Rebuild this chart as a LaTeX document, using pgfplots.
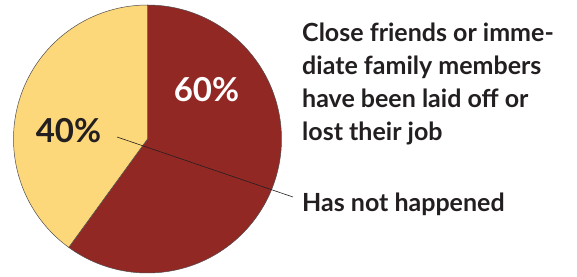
\documentclass[border=0pt]{standalone}
\usepackage{pgfplots}
\pgfplotsset{compat=1.18}
\usepackage{fontspec}
\setmainfont{Lato}
\definecolor{darkred}{RGB}{146,40,36}
\definecolor{paleyellow}{RGB}{253,216,122}
\definecolor{txt}{RGB}{35,31,32}
% data: shares in percent
\def\pctHappened{60}
\def\pctNot{40}
\def\cx{147.5}
\def\cy{137}
\def\rr{134}
\begin{document}
\begin{tikzpicture}
\pgfmathsetmacro{\angEnd}{90+3.6*\pctNot}
\pgfmathsetmacro{\angStart}{90-3.6*\pctHappened}
\begin{axis}[width=577pt,height=276pt,scale only axis,
  xmin=0,xmax=577,ymin=0,ymax=276,hide axis,clip=false]
\addplot[fill=darkred,draw=txt!80,line width=0.5pt,domain=\angStart:90,samples=120]
  ({\cx+\rr*cos(x)},{\cy+\rr*sin(x)}) -- (\cx,\cy) -- cycle;
\addplot[fill=paleyellow,draw=txt!80,line width=0.5pt,domain=90:\angEnd,samples=80]
  ({\cx+\rr*cos(x)},{\cy+\rr*sin(x)}) -- (\cx,\cy) -- cycle;
\addplot[txt,line width=0.6pt] coordinates {(117,139) (293,79)};
\node[anchor=base,text=white,font=\bfseries\fontsize{33}{33}\selectfont] at (206.5,174) {60\%};
\node[anchor=base,text=txt,font=\bfseries\fontsize{33}{33}\selectfont] at (68.5,134) {40\%};
\begin{scope}[every node/.style={anchor=base west,inner sep=0pt,text=txt,font=\bfseries\fontsize{25}{25}\selectfont}]
\node at (302,234) {Close friends or imme-};
\node at (302,201) {diate family members};
\node at (302,168) {have been laid off or};
\node at (302,136) {lost their job};
\node at (302,65) {Has not happened};
\end{scope}
\end{axis}
\pgfresetboundingbox
\path[use as bounding box] (current axis.south west) rectangle (current axis.north east);
\end{tikzpicture}
\end{document}
